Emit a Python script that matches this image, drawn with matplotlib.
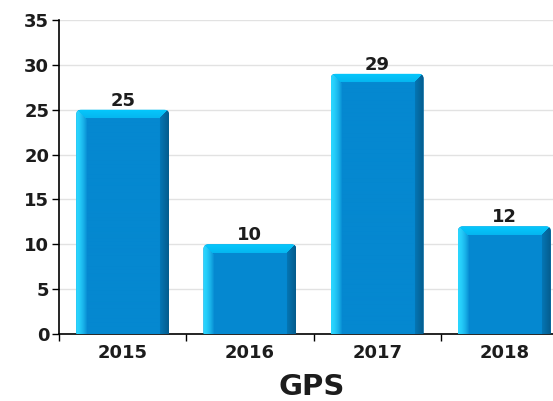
import numpy as np
import matplotlib
matplotlib.use("Agg")
import matplotlib.pyplot as plt
from matplotlib.colors import to_rgb
from matplotlib.patches import FancyBboxPatch

categories = ["2015", "2016", "2017", "2018"]
values = [25, 10, 29, 12]
yticks = [0, 5, 10, 15, 20, 25, 30, 35]
xlabel = "GPS"

W, H = 553, 401
fig = plt.figure(figsize=(W / 100, H / 100), dpi=100)
ax = fig.add_axes([59 / W, 67 / H, 509 / W, 314 / H])

x = np.arange(len(categories))
bw = 0.73
bars = ax.bar(x, values, width=bw, color="#0588d0", zorder=2)

txtc = "#1c1c1c"
ax.set_xlim(-0.5, len(categories) - 0.5)
ax.set_ylim(0, 35)
ax.set_xticks(x)
ax.set_xticklabels(categories, fontsize=13, fontweight="bold", color=txtc)
ax.set_yticks(yticks)
ax.set_yticklabels([str(t) for t in yticks], fontsize=13, fontweight="bold", color=txtc)
ax.set_xticks(np.arange(len(categories) + 1) - 0.5, minor=True)
ax.tick_params(axis="x", which="major", length=0, pad=7)
ax.tick_params(axis="x", which="minor", length=5, width=1, direction="out")
ax.tick_params(axis="y", length=5, width=1, direction="out", pad=2)
for s in ["top", "right"]:
    ax.spines[s].set_visible(False)
ax.spines["left"].set_linewidth(1.2)
ax.spines["bottom"].set_linewidth(1.2)
ax.grid(axis="y", color="#e2e2e2", linewidth=1, zorder=0)
ax.set_axisbelow(True)

# bevel shading
main = np.array(to_rgb("#0588d0"))
light = np.array(to_rgb("#2ad6ff"))
topc = np.array(to_rgb("#06c8fc"))
dark = np.array(to_rgb("#045d8e"))
pxu = 314 / 35.0
pxx = 509 / 4.0
pw = 93
bev = 11
rx = 5 / pxx
ry = 5 / pxu
for b in bars:
    h = b.get_height()
    x0 = b.get_x()
    clip = FancyBboxPatch((x0, -2), b.get_width(), h + 2,
                          boxstyle=f"round,pad=0,rounding_size={rx}",
                          mutation_aspect=ry / rx, transform=ax.transData,
                          facecolor="none", edgecolor="none")
    ax.add_patch(clip)
    b.set_clip_path(clip)
    ph = max(int(round(h * pxu)), 2)
    img = np.zeros((ph, pw, 3))
    img[:] = main
    yy, xx = np.mgrid[0:ph, 0:pw]
    dl = xx.astype(float)
    dr = (pw - 1 - xx).astype(float)
    dt = yy.astype(float)
    left_m = (dl < bev) & (dl <= dt)
    right_m = (dr < 9) & (dr <= dt)
    top_m = (dt < 9) & ~left_m & ~right_m
    t = ((dl / bev) ** 1.6)[..., None]
    img = np.where(left_m[..., None], light * (1 - t) + main * t, img)
    t = (dr / 9)[..., None]
    img = np.where(right_m[..., None], dark * (1 - t) + (main * 0.88) * t, img)
    t = (dt / 9)[..., None]
    img = np.where(top_m[..., None], topc * (1 - 0.3 * t) + main * 0.3 * t, img)
    im = ax.imshow(img, extent=[x0, x0 + b.get_width(), 0, h], origin="upper",
                   aspect="auto", zorder=3, interpolation="bilinear")
    im.set_clip_path(clip)

for xi, v in zip(x, values):
    ax.annotate(str(v), (xi, v), xytext=(0, 0), textcoords="offset points",
                ha="center", va="bottom", fontsize=13, fontweight="bold",
                color=txtc, zorder=4)

ax.set_xlim(-0.5, len(categories) - 0.5)
ax.set_ylim(0, 35)
fig.text(312 / W, 1 - 387 / H, xlabel, ha="center", va="center",
         fontsize=21, fontweight="bold", color=txtc)

fig.savefig("out.png", dpi=100)
